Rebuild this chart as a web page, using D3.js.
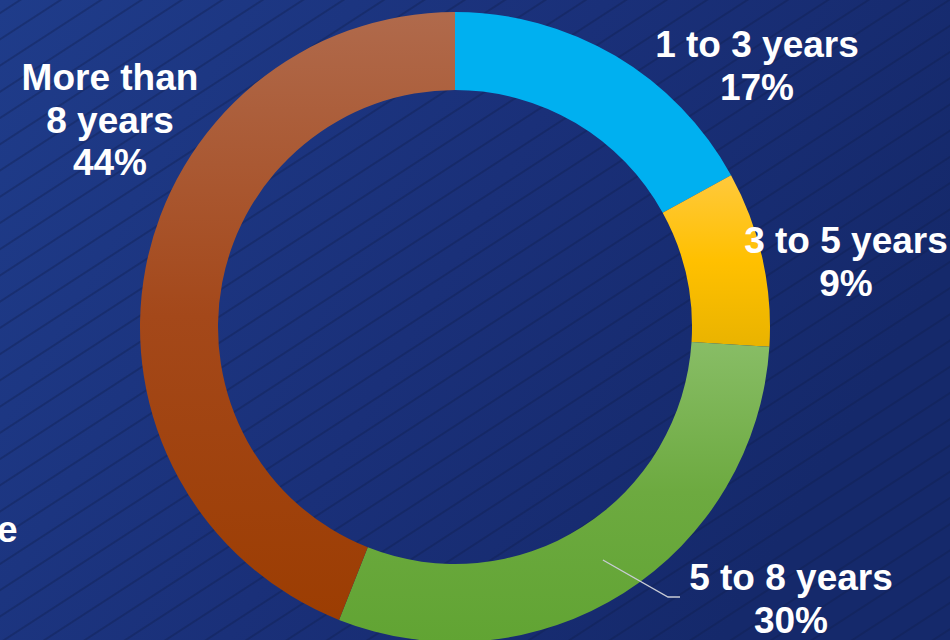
<!DOCTYPE html>
<html>
<head>
<meta charset="utf-8">
<script src="https://cdn.jsdelivr.net/npm/d3@7"></script>
<style>
  html, body { margin: 0; padding: 0; background: #1a3278; }
  svg { display: block; }
  text { font-family: "Liberation Sans", Arial, sans-serif; font-weight: bold; fill: #ffffff; }
</style>
</head>
<body>
<svg id="chart" width="950" height="640"></svg>
<script>
// Tenure distribution
const categories = ["1 to 3 years", "3 to 5 years", "5 to 8 years", "More than 8 years"];
const values = [17, 9, 30, 44];
const labelLines = [["1 to 3 years"], ["3 to 5 years"], ["5 to 8 years"], ["More than", "8 years"]];

// Fill stops per slice (top -> bottom)
const fills = [
  ["#00B0F0", "#00B0F0"],
  ["#FFC93C", "#FFC000", "#E9B300"],
  ["#88BD66", "#6DAA40", "#61A433"],
  ["#B06A4C", "#A4481A", "#9C3D02"]
];
// Label anchor: [centre x, first baseline] relative to the donut centre
const labelPos = [[302, -270], [391, -74], [336, 263], [-345, -237]];

const W = 950, H = 640;
const cx = 455, cy = 327, outerR = 315, innerR = 237;

const svg = d3.select("#chart");
const defs = svg.append("defs");

// Background: navy gradient with fine diagonal stripes
const bg = defs.append("linearGradient").attr("id", "bg")
  .attr("x1", "0").attr("y1", "0").attr("x2", "1").attr("y2", "0.4");
bg.append("stop").attr("offset", "0").attr("stop-color", "#1f3c8a");
bg.append("stop").attr("offset", "0.55").attr("stop-color", "#1a3079");
bg.append("stop").attr("offset", "1").attr("stop-color", "#15296b");

const pat = defs.append("pattern").attr("id", "stripes")
  .attr("patternUnits", "userSpaceOnUse")
  .attr("width", 22).attr("height", 22)
  .attr("patternTransform", "rotate(-33)");
pat.append("line").attr("x1", 0).attr("y1", 11).attr("x2", 22).attr("y2", 11)
  .attr("stroke", "#0c1a4a").attr("stroke-opacity", 0.5).attr("stroke-width", 1.4);

svg.append("rect").attr("width", W).attr("height", H).attr("fill", "url(#bg)");
svg.append("rect").attr("width", W).attr("height", H).attr("fill", "url(#stripes)");

// Slice gradients
fills.forEach((stops, i) => {
  const g = defs.append("linearGradient").attr("id", "fill" + i)
    .attr("x1", 0).attr("y1", 0).attr("x2", 0).attr("y2", 1);
  stops.forEach((c, j) => {
    g.append("stop").attr("offset", j / (stops.length - 1)).attr("stop-color", c);
  });
});

const pie = d3.pie().sort(null).value(d => d)
  .startAngle(0).endAngle(2 * Math.PI);
const arcs = pie(values);
const arc = d3.arc().innerRadius(innerR).outerRadius(outerR);

const g = svg.append("g").attr("transform", `translate(${cx},${cy})`);
g.selectAll("path.slice").data(arcs).join("path")
  .attr("class", "slice")
  .attr("d", arc)
  .attr("fill", (d, i) => `url(#fill${i})`);

// Leader line for the 5 to 8 years slice: from the slice centroid to its label
const p0 = arc.centroid(arcs[2]);
const elbow = [labelPos[2][0] - 123, labelPos[2][1] + 7];
g.append("polyline")
  .attr("points", [p0, elbow, [elbow[0] + 12, elbow[1]]].map(p => p.join(",")).join(" "))
  .attr("fill", "none").attr("stroke", "#c9ccd6").attr("stroke-width", 1.3);

// Labels: category name lines followed by the percentage
const fontSize = 37, lineH = 42.5;
arcs.forEach((d, i) => {
  const lines = labelLines[i].concat([values[i] + "%"]);
  const [lx, ly] = labelPos[i];
  const t = g.append("text")
    .attr("text-anchor", "middle")
    .attr("font-size", fontSize);
  lines.forEach((s, k) => {
    t.append("tspan").attr("x", lx).attr("y", ly + k * lineH).text(s);
  });
});

// Clipped text at the left edge
svg.append("text").attr("x", -3).attr("y", 542).attr("font-size", fontSize).text("e");
</script>
</body>
</html>
